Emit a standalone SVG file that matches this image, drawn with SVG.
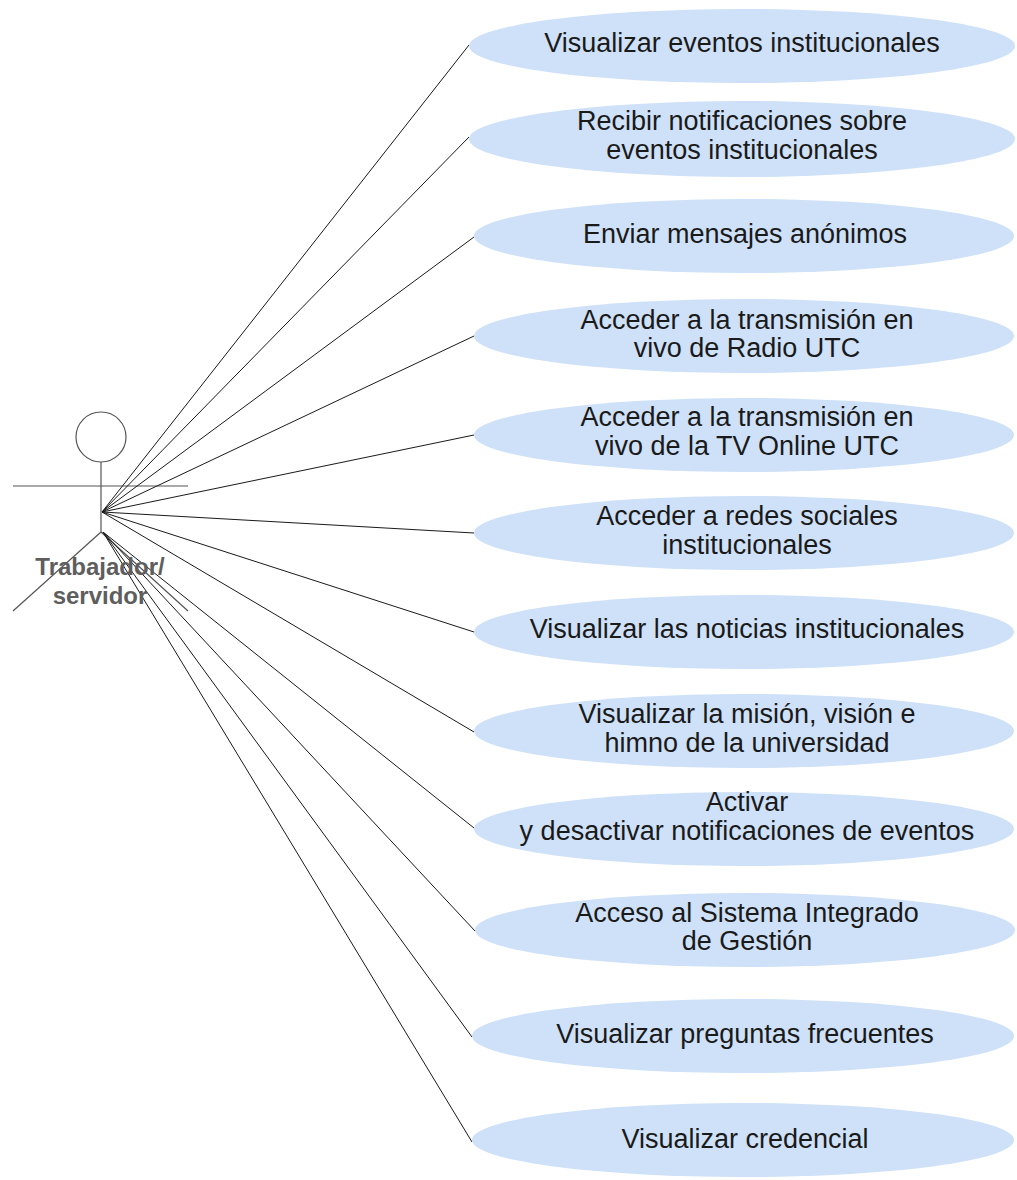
<svg xmlns="http://www.w3.org/2000/svg" width="1017" height="1180" viewBox="0 0 1017 1180">
<style>
.uc{fill:#cee1f8;stroke:none}
.t{font-family:"Liberation Sans",Arial,sans-serif;font-size:27px;fill:#1a1a1a;text-anchor:middle}
.actor{fill:none;stroke:#555;stroke-width:1.2}
.an{font-family:"Liberation Sans",Arial,sans-serif;font-size:24px;font-weight:bold;fill:#5e5e5e;text-anchor:middle}
.c{stroke:#1a1a1a;stroke-width:1;fill:none}
</style>
<rect width="1017" height="1180" fill="#ffffff"/>
<g id="actor">
<circle class="actor" cx="101" cy="437" r="25"/>
<line class="actor" x1="101" y1="462" x2="101" y2="532"/>
<line class="actor" x1="13" y1="486" x2="188" y2="486"/>
<line class="actor" x1="101" y1="532" x2="13" y2="611"/>
<line class="actor" x1="101" y1="532" x2="188" y2="611"/>
</g>
<g id="connectors">
<line class="c" x1="102" y1="512" x2="469" y2="45"/>
<line class="c" x1="102" y1="512" x2="469" y2="137"/>
<line class="c" x1="102" y1="512" x2="474" y2="237"/>
<line class="c" x1="102" y1="512" x2="474" y2="336"/>
<line class="c" x1="102" y1="512" x2="474" y2="435"/>
<line class="c" x1="102" y1="512" x2="474" y2="533"/>
<line class="c" x1="102" y1="512" x2="474" y2="632"/>
<line class="c" x1="102" y1="512" x2="474" y2="732"/>
<line class="c" x1="103" y1="532" x2="474" y2="828"/>
<line class="c" x1="103" y1="532" x2="475" y2="931"/>
<line class="c" x1="103" y1="532" x2="472" y2="1037"/>
<line class="c" x1="103" y1="532" x2="472" y2="1142"/>
</g>
<g id="actor-label">
<text class="an" x="100" y="575">Trabajador/</text>
<text class="an" x="100" y="604">servidor</text>
</g>
<g id="uc1"><ellipse class="uc" cx="742" cy="46" rx="273" ry="37"/><text class="t" x="742" y="52">Visualizar eventos institucionales</text></g>
<g id="uc2"><ellipse class="uc" cx="742" cy="139" rx="273" ry="38"/><text class="t" x="742" y="130">Recibir notificaciones sobre</text><text class="t" x="742" y="159">eventos institucionales</text></g>
<g id="uc3"><ellipse class="uc" cx="744" cy="236" rx="270" ry="37"/><text class="t" x="745" y="243">Enviar mensajes anónimos</text></g>
<g id="uc4"><ellipse class="uc" cx="744" cy="336" rx="270" ry="37"/><text class="t" x="747" y="329">Acceder a la transmisión en</text><text class="t" x="747" y="357">vivo de Radio UTC</text></g>
<g id="uc5"><ellipse class="uc" cx="744" cy="435" rx="270" ry="37"/><text class="t" x="747" y="426">Acceder a la transmisión en</text><text class="t" x="747" y="455">vivo de la TV Online UTC</text></g>
<g id="uc6"><ellipse class="uc" cx="744" cy="533" rx="270" ry="37"/><text class="t" x="747" y="525">Acceder a redes sociales</text><text class="t" x="747" y="554">institucionales</text></g>
<g id="uc7"><ellipse class="uc" cx="744" cy="632" rx="270" ry="37"/><text class="t" x="747" y="638">Visualizar las noticias institucionales</text></g>
<g id="uc8"><ellipse class="uc" cx="744" cy="731" rx="270" ry="37"/><text class="t" x="747" y="723">Visualizar la misión, visión e</text><text class="t" x="747" y="752">himno de la universidad</text></g>
<g id="uc9"><ellipse class="uc" cx="744" cy="829" rx="270" ry="37"/><text class="t" x="747" y="811">Activar</text><text class="t" x="747" y="840">y desactivar notificaciones de eventos</text></g>
<g id="uc10"><ellipse class="uc" cx="745" cy="930" rx="270" ry="37"/><text class="t" x="747" y="922">Acceso al Sistema Integrado</text><text class="t" x="747" y="950">de Gestión</text></g>
<g id="uc11"><ellipse class="uc" cx="743" cy="1036" rx="271" ry="37"/><text class="t" x="745" y="1043">Visualizar preguntas frecuentes</text></g>
<g id="uc12"><ellipse class="uc" cx="743" cy="1140" rx="271" ry="37"/><text class="t" x="745" y="1148">Visualizar credencial</text></g>
</svg>
